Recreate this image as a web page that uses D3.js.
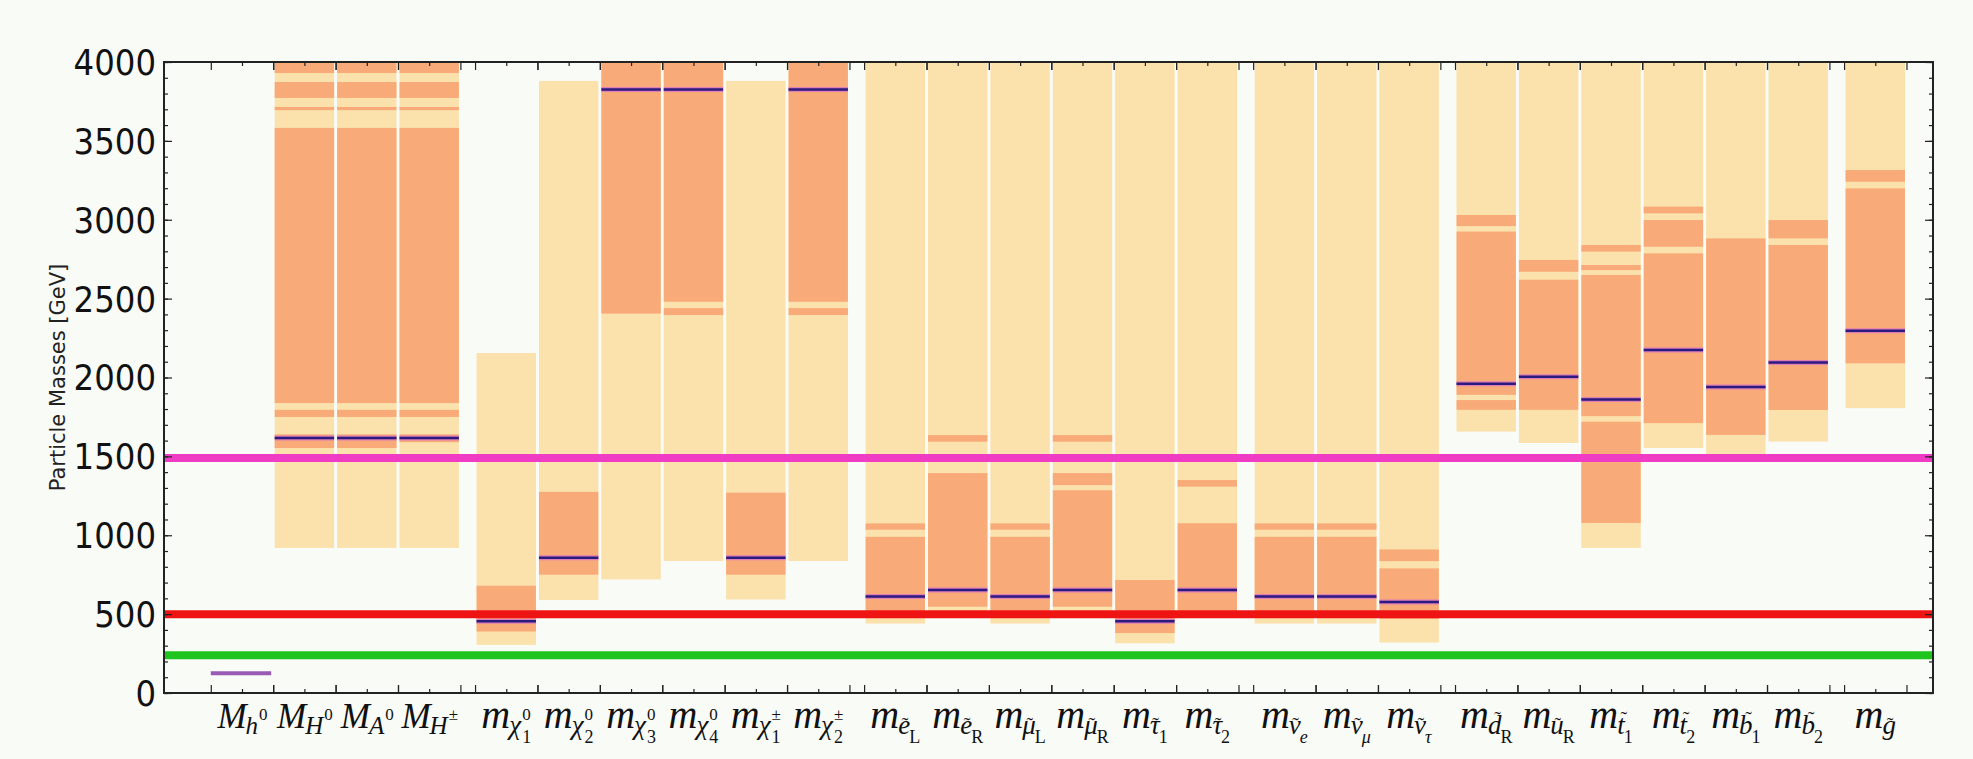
<!DOCTYPE html>
<html>
<head>
<meta charset="utf-8">
<script src="https://cdn.jsdelivr.net/npm/d3@7"></script>
<style>
  body { margin: 0; background: #f9fbf7; }
  svg { display: block; }
</style>
</head>
<body>
<div id="chart"></div>
<script>
// particles, in plot order, and the group each one sits in (gaps between groups)
var particles = ["h0","H0","A0","Hpm","chi10","chi20","chi30","chi40","chi1pm","chi2pm",
                 "eL","eR","muL","muR","tau1","tau2","nue","numu","nutau",
                 "dR","uR","t1","t2","b1","b2","gluino"];
var groups = [0,0,0,0,1,1,1,1,1,1,2,2,2,2,2,2,3,3,3,4,4,4,4,4,4,5];

// axis label pieces: base letter, subscript (with or without tilde), superscript on it, index under it
var labelBase  = ["M","M","M","M","m","m","m","m","m","m","m","m","m","m","m","m","m","m","m","m","m","m","m","m","m","m"];
var labelSub   = ["h","H","A","H","\u03c7","\u03c7","\u03c7","\u03c7","\u03c7","\u03c7",
                  "e","e","\u03bc","\u03bc","\u03c4","\u03c4","\u03bd","\u03bd","\u03bd",
                  "d","u","t","t","b","b","g"];
var labelTilde = [0,0,0,0,0,0,0,0,0,0,1,1,1,1,1,1,1,1,1,1,1,1,1,1,1,1];
var labelSup   = ["0","0","0","\u00b1","0","0","0","0","\u00b1","\u00b1","","","","","","","","","","","","","","","",""];
var labelIdx   = ["","","","","1","2","3","4","1","2","L","R","L","R","1","2","e","\u03bc","\u03c4","R","R","1","2","1","2",""];

// mass ranges in GeV (light = wide range, dark = preferred bands), best fit value
var lightLow  = [null, 920, 920, 920, 305, 590, 720, 837, 593, 837,
                 440, 520, 440, 520, 315, 480, 440, 440, 320,
                 1657, 1585, 920, 1553, 1500, 1594, 1806];
var lightHigh = [null, 4000, 4000, 4000, 2155, 3880, 4000, 4000, 3880, 4000,
                 4000, 4000, 4000, 4000, 4000, 4000, 4000, 4000, 4000,
                 4000, 4000, 4000, 4000, 4000, 4000, 4000];
var darkBands = [
  [],
  [[3930,4000],[3772,3873],[3695,3715],[1838,3582],[1750,1795],[1553,1640]],
  [[3930,4000],[3772,3873],[3695,3715],[1838,3582],[1750,1795],[1553,1640]],
  [[3930,4000],[3772,3873],[3695,3715],[1838,3582],[1750,1795],[1590,1640]],
  [[390,680]],
  [[750,1275]],
  [[2405,4000]],
  [[2480,4000],[2396,2440]],
  [[750,1270]],
  [[2480,4000],[2396,2440]],
  [[1035,1075],[500,990]],
  [[1593,1635],[547,1394]],
  [[1035,1075],[500,990]],
  [[1593,1635],[1318,1394],[547,1285]],
  [[380,716]],
  [[1308,1350],[500,1076]],
  [[1035,1075],[500,990]],
  [[1035,1075],[500,990]],
  [[836,910],[470,790]],
  [[2960,3030],[1890,2925],[1795,1857]],
  [[2670,2745],[1795,2620]],
  [[2798,2840],[2681,2713],[1755,2650],[1078,1720]],
  [[3041,3083],[2829,2998],[1711,2787]],
  [[1636,2882]],
  [[2882,2998],[1794,2840]],
  [[3241,3315],[2090,3199]]
];
var bestFit = [125, 1616, 1616, 1616, 455, 857, 3825, 3825, 857, 3825,
               611, 653, 611, 653, 455, 653, 611, 611, 577,
               1960, 2005, 1860, 2175, 1940, 2095, 2297];

// horizontal reference masses
var refMasses = [240, 500, 1490];
var refColors = ["#1fc41f", "#ee1414", "#f03cc4"];

var yTicks = [0, 500, 1000, 1500, 2000, 2500, 3000, 3500, 4000];

// layout
var W = 1973, H = 759;
var mLeft = 164, mRight = 1933, mTop = 62, mBottom = 693;
var padLeft = 0.75, groupGap = 0.235, xMax = 28.35;

var svg = d3.select("#chart").append("svg")
  .attr("width", W).attr("height", H);

svg.append("rect").attr("width", W).attr("height", H).attr("fill", "#f9fbf7");

var x = d3.scaleLinear().domain([0, xMax]).range([mLeft, mRight]);
var y = d3.scaleLinear().domain([0, 4000]).range([mBottom, mTop]);

// left edge of every column in axis units
var xPos = particles.map(function(p, i) { return padLeft + i + groups[i] * groupGap; });
var colW = x(1) - x(0) - 3;

var cols = svg.append("g");

// light ranges
var idx = d3.range(particles.length).filter(function(i) { return lightLow[i] != null; });
cols.selectAll(".light")
  .data(idx)
  .enter().append("rect")
    .attr("x", function(i) { return x(xPos[i]) + 1.5; })
    .attr("width", colW)
    .attr("y", function(i) { return y(lightHigh[i]); })
    .attr("height", function(i) { return y(lightLow[i]) - y(lightHigh[i]); })
    .attr("fill", "#fbe1ab");

// dark bands
var bands = [];
darkBands.forEach(function(list, i) {
  list.forEach(function(b) { bands.push({ i: i, lo: b[0], hi: b[1] }); });
});
cols.selectAll(".dark")
  .data(bands)
  .enter().append("rect")
    .attr("x", function(d) { return x(xPos[d.i]) + 1.5; })
    .attr("width", colW)
    .attr("y", function(d) { return y(d.hi); })
    .attr("height", function(d) { return y(d.lo) - y(d.hi); })
    .attr("fill", "#f8ab79");

// best fit marks
var fitIdx = d3.range(1, particles.length);
cols.selectAll(".fithalo")
  .data(fitIdx)
  .enter().append("line")
    .attr("x1", function(i) { return x(xPos[i]) + 1.5; })
    .attr("x2", function(i) { return x(xPos[i] + 1) - 1.5; })
    .attr("y1", function(i) { return y(bestFit[i]); })
    .attr("y2", function(i) { return y(bestFit[i]); })
    .attr("stroke", "#d46bd0").attr("stroke-width", 5).attr("opacity", 0.7);
cols.selectAll(".fit")
  .data(fitIdx)
  .enter().append("line")
    .attr("x1", function(i) { return x(xPos[i]) + 1.5; })
    .attr("x2", function(i) { return x(xPos[i] + 1) - 1.5; })
    .attr("y1", function(i) { return y(bestFit[i]); })
    .attr("y2", function(i) { return y(bestFit[i]); })
    .attr("stroke", "#2c1a7e").attr("stroke-width", 2.5);

// light higgs
svg.append("line")
  .attr("x1", x(xPos[0])).attr("x2", x(xPos[0] + 1) - 2)
  .attr("y1", y(bestFit[0])).attr("y2", y(bestFit[0]))
  .attr("stroke", "#9a5bb4").attr("stroke-width", 4);

// reference lines
svg.selectAll(".ref")
  .data(refMasses)
  .enter().append("line")
    .attr("x1", mLeft).attr("x2", mRight)
    .attr("y1", function(d) { return y(d); })
    .attr("y2", function(d) { return y(d); })
    .attr("stroke", function(d, i) { return refColors[i]; })
    .attr("stroke-width", 8);

// ticks
var edges = [], mids = [];
xPos.forEach(function(p) { edges.push(p, p + 1); mids.push(p + 0.5); });
var minorY = d3.range(0, 4001, 100);

function tickAxis(axis, tr) {
  var g = svg.append("g").attr("transform", tr).call(axis);
  g.select(".domain").remove();
  g.selectAll("line").attr("stroke", "#222").attr("stroke-width", 1.2);
  g.selectAll("text").remove();
}
tickAxis(d3.axisBottom(x).tickValues(edges).tickSize(-8), "translate(0," + mBottom + ")");
tickAxis(d3.axisBottom(x).tickValues(mids).tickSize(-4), "translate(0," + mBottom + ")");
tickAxis(d3.axisTop(x).tickValues(edges).tickSize(-8), "translate(0," + mTop + ")");
tickAxis(d3.axisTop(x).tickValues(mids).tickSize(-4), "translate(0," + mTop + ")");
tickAxis(d3.axisLeft(y).tickValues(yTicks).tickSize(-8), "translate(" + mLeft + ",0)");
tickAxis(d3.axisLeft(y).tickValues(minorY).tickSize(-4), "translate(" + mLeft + ",0)");
tickAxis(d3.axisRight(y).tickValues(yTicks).tickSize(-8), "translate(" + mRight + ",0)");
tickAxis(d3.axisRight(y).tickValues(minorY).tickSize(-4), "translate(" + mRight + ",0)");

// frame
svg.append("rect")
  .attr("x", mLeft).attr("y", mTop)
  .attr("width", mRight - mLeft).attr("height", mBottom - mTop)
  .attr("fill", "none").attr("stroke", "#222").attr("stroke-width", 2);

// y tick labels
svg.selectAll(".ylab")
  .data(yTicks)
  .enter().append("text")
    .attr("x", mLeft - 8)
    .attr("y", function(d) { return y(d); })
    .attr("dy", "0.36em")
    .attr("text-anchor", "end")
    .style("font-family", "'DejaVu Sans Condensed', 'DejaVu Sans', sans-serif")
    .style("font-stretch", "condensed")
    .style("font-size", "36px")
    .attr("fill", "#111")
    .text(function(d) { return d; });

svg.append("text")
  .attr("transform", "translate(58," + ((mTop + mBottom) / 2) + ") rotate(-90)")
  .attr("text-anchor", "middle")
  .attr("dy", "0.35em")
  .style("font-family", "'DejaVu Sans', sans-serif")
  .style("font-size", "21px")
  .attr("fill", "#222")
  .text("Particle Masses [GeV]");

// x labels in math style, one text element per label
var serif = "'Liberation Serif', 'DejaVu Serif', serif";
var baseY = 728;
particles.forEach(function(p, i) {
  var t = svg.append("text").attr("x", 0).attr("y", baseY)
    .style("font-family", serif).attr("fill", "#111");
  var big = labelBase[i] == "M" ? "35px" : "40px";
  t.append("tspan").text(labelBase[i]).style("font-size", big).style("font-style", "italic");
  var wBase = t.node().getComputedTextLength();
  t.append("tspan").text(labelSub[i]).style("font-size", labelBase[i] == "M" ? "25px" : "27px")
    .style("font-style", "italic")
    .attr("x", wBase - 1).attr("y", baseY + 6);
  var w = t.node().getComputedTextLength() - 1;
  if (labelTilde[i]) {
    var tall = "dtbh".indexOf(labelSub[i]) >= 0;
    t.append("tspan")
      .attr("x", (wBase + w) / 2 - 4 + (tall ? 3 : 1))
      .attr("y", baseY + (tall ? -2 : 4))
      .style("font-size", "20px")
      .text("\u02dc");
  }
  if (labelSup[i]) {
    t.append("tspan").attr("x", w + 1).attr("y", baseY - 8)
      .style("font-size", "17px").text(labelSup[i]);
  }
  if (labelIdx[i]) {
    var ital = /[\u03b1-\u03c9]/.test(labelIdx[i]) || labelIdx[i] == "e";
    t.append("tspan").attr("x", labelSup[i] ? w + 1 : w - 1).attr("y", baseY + 15)
      .style("font-size", "18px")
      .style("font-style", ital ? "italic" : "normal")
      .text(labelIdx[i]);
  }
  var bb = t.node().getBBox();
  var cx = x(xPos[i] + 0.5);
  t.attr("transform", "translate(" + (cx - bb.x - bb.width / 2) + ",0)");
});
</script>
</body>
</html>
